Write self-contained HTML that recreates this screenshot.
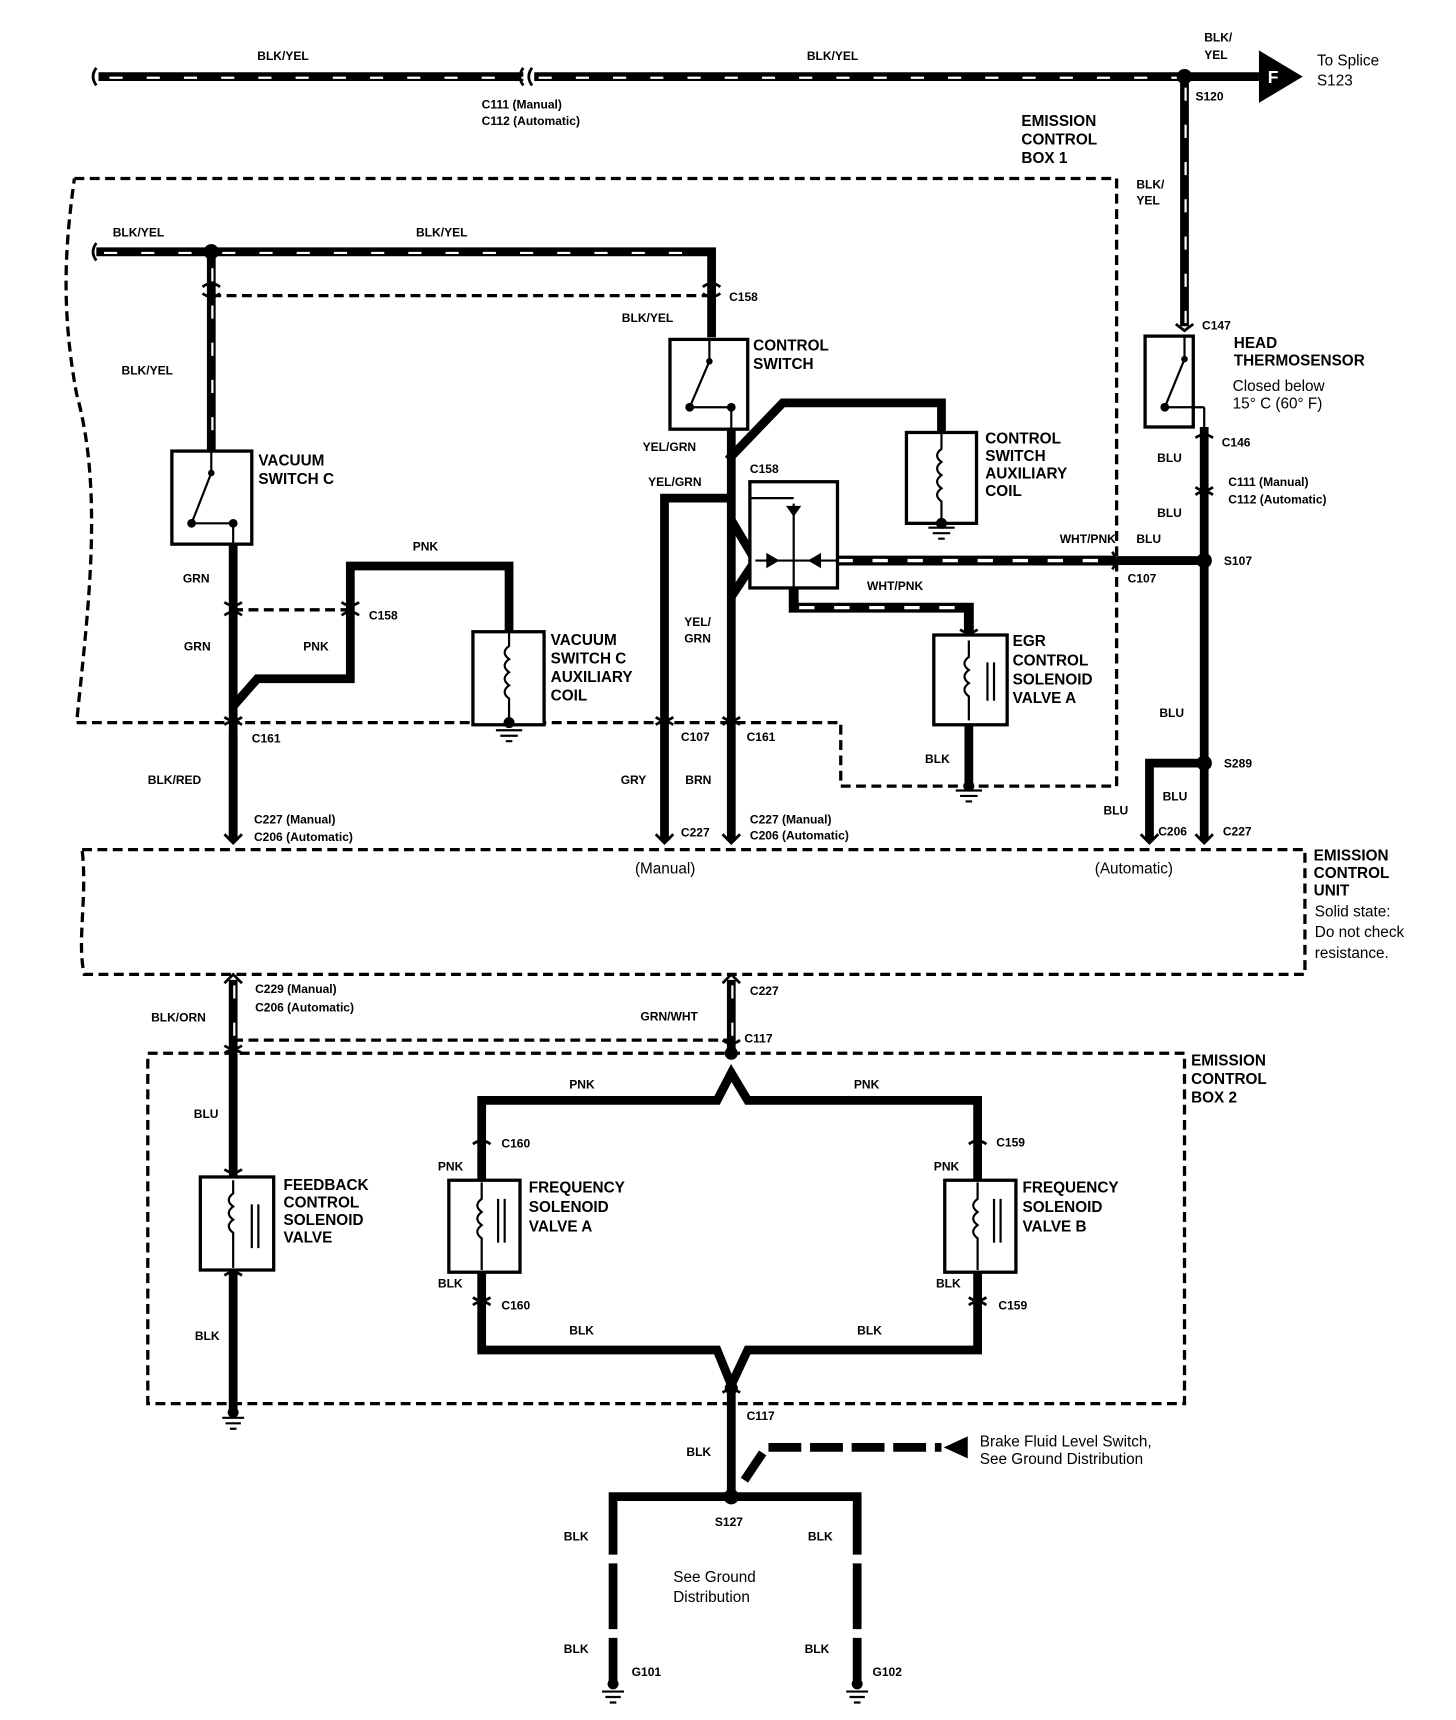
<!DOCTYPE html>
<html><head><meta charset="utf-8"><style>
html,body{margin:0;padding:0;background:#fff}
svg{display:block}
text{font-family:"Liberation Sans",sans-serif;fill:#000}
.b{font-weight:bold;font-size:14px}
.s{font-weight:bold;font-size:11px}
.n{font-size:14px}
</style></head><body>
<svg width="1456" height="1720" viewBox="0 0 1330 1571" preserveAspectRatio="none" xmlns="http://www.w3.org/2000/svg">
<g fill="none" stroke="#000">
<g stroke-width="8">
<path d="M90 70 H478 M488 70 H1150"/>
<path d="M1082 70 V298"/>
<path d="M88 230 H650 V308"/>
<path d="M193 230 V412"/>
<path d="M213 670 V768"/>
<path d="M668 895 V960"/>
<path d="M213 895 V960"/>
</g>
<g stroke="#fff" stroke-width="2" stroke-dasharray="12 22">
<path d="M100 71 H478 M492 71 H1075"/>
<path d="M1083 80 V295"/>
<path d="M95 231 H185 M203 231 H645"/>
<path d="M194 245 V405"/>
<path d="M214 675 V760"/>
<path d="M669 900 V955"/>
<path d="M214 900 V955"/>
</g>
<g stroke-width="8" stroke-linejoin="miter">
<path d="M1100 390 V768"/>
<path d="M1020 512 H1100"/>
<path d="M1100 697 H1050 V768"/>
<path d="M213 497 V768"/>
<path d="M213 645 L235 620 H320 V517 H465 V577"/>
<path d="M668 392 V768"/>
<path d="M665 420 L715 368 H860 V395"/>
<path d="M607 768 V455 H665"/>
<path d="M668 475 L690 512"/>
<path d="M668 545 L690 512"/>
<path d="M885 662 V715"/>
<path d="M213 960 V1075 M213 1160 V1290"/>
<path d="M440 1078 V1005 H655 L668 980 L683 1005 H893 V1078"/>
<path d="M440 1162 V1233 H655 L668 1265 L683 1233 H893 V1162"/>
<path d="M668 1265 V1367"/>
<path d="M560 1420 V1367 H783 V1420"/>
<path d="M560 1428 V1488 M560 1496 V1535 M783 1428 V1488 M783 1496 V1535"/>
<path d="M680 1352 L700 1322 H860" stroke-dasharray="30 8"/>
</g>
<path d="M765 512 H1018" stroke-width="9"/>
<path d="M765 512 H1015" stroke="#fff" stroke-width="3" stroke-dasharray="14 18"/>
<path d="M725 537 V555 H885 V580" stroke-width="9"/>
<path d="M730 555 H880" stroke="#fff" stroke-width="3" stroke-dasharray="14 18"/>
<g stroke-width="3" stroke-dasharray="9 5">
<path d="M68 163 H1020 V718 H768 V660 H70 C80 560 95 450 70 360 C55 280 60 220 68 163"/>
<path d="M193 270 H650"/>
<path d="M213 557 H320"/>
<path d="M75 776 H1192 V890 H77 C70 860 80 820 75 776"/>
<path d="M213 950 H668"/>
<path d="M135 962 H1082 V1282 H135 Z"/>
</g>
<g stroke-width="3" fill="#fff">
<rect x="157" y="412" width="73" height="85"/>
<rect x="432" y="577" width="65" height="85"/>
<rect x="612" y="310" width="71" height="82"/>
<rect x="828" y="395" width="64" height="83"/>
<rect x="685" y="440" width="80" height="97"/>
<rect x="853" y="580" width="67" height="82"/>
<rect x="1046" y="307" width="44" height="83"/>
<rect x="183" y="1075" width="67" height="85"/>
<rect x="410" y="1078" width="65" height="84"/>
<rect x="863" y="1078" width="65" height="84"/>
</g>
<g stroke-width="2">
<path d="M193 412 V432 L175 478 M172 478 H210 M213 478 V497"/>
<path d="M648 310 V330 L630 372 M630 372 H668 V392"/>
<path d="M1082 307 V328 L1064 372 M1064 372 H1100 M1100 372 V390"/>
<path d="M465 577 V590 q-8 6 0 12 q-8 6 0 12 q-8 6 0 12 q-8 6 0 12 V658"/>
<path d="M860 395 V410 q-8 6 0 12 q-8 6 0 12 q-8 6 0 12 q-8 6 0 12 V478"/>
<path d="M885 585 V600 q-8 6 0 12 q-8 6 0 12 q-8 6 0 12 V658 M902 605 V640 M908 605 V640"/>
<path d="M213 1078 V1090 q-8 6 0 12 q-8 6 0 12 q-8 6 0 12 V1158 M230 1100 V1140 M236 1100 V1140"/>
<path d="M440 1080 V1095 q-8 6 0 12 q-8 6 0 12 q-8 6 0 12 V1160 M455 1095 V1135 M461 1095 V1135"/>
<path d="M893 1080 V1095 q-8 6 0 12 q-8 6 0 12 q-8 6 0 12 V1160 M908 1095 V1135 M914 1095 V1135"/>
<path d="M690 512 H765 M725 460 V512 M685 455 H725 M725 537 V512"/>
</g>
<g stroke-width="2">
<path d="M453 667 H477 M457 672 H473 M462 677 H468"/>
<path d="M848 482 H872 M852 487 H868 M857 492 H863"/>
<path d="M873 722 H897 M877 727 H893 M882 732 H888"/>
<path d="M203 1295 H223 M206 1300 H220 M210 1305 H216"/>
<path d="M550 1545 H570 M553 1550 H567 M557 1555 H563"/>
<path d="M773 1545 H793 M776 1550 H790 M780 1555 H786"/>
</g>
<g stroke-width="2.5">
<path d="M478 62 q-6 8 0 16 M486 62 q-6 8 0 16"/>
<path d="M88 62 q-6 8 0 16 M88 222 q-6 8 0 16"/>
<path d="M185 262 q8 -6 16 0 M185 268 q8 6 16 0"/>
<path d="M642 262 q8 -6 16 0 M642 268 q8 6 16 0"/>
<path d="M205 550 q8 6 16 0 M205 562 q8 -6 16 0 M312 550 q8 6 16 0 M312 562 q8 -6 16 0"/>
<path d="M205 655 q8 6 16 0 M205 662 q8 -6 16 0 M599 655 q8 6 16 0 M599 662 q8 -6 16 0 M660 655 q8 6 16 0 M660 662 q8 -6 16 0"/>
<path d="M205 762 l8 8 l8 -8 M599 762 l8 8 l8 -8 M660 762 l8 8 l8 -8 M1042 762 l8 8 l8 -8 M1092 762 l8 8 l8 -8"/>
<path d="M205 898 l8 -8 l8 8 M660 898 l8 -8 l8 8"/>
<path d="M1074 296 l8 6 l8 -6 M1092 400 q8 -6 16 0 M1092 445 q8 6 16 0 M1092 452 q8 -6 16 0"/>
<path d="M1016 504 q6 8 0 16"/>
<path d="M205 955 q8 6 16 0 M205 962 q8 -6 16 0 M205 1068 q8 6 16 0 M205 1165 q8 -6 16 0"/>
<path d="M432 1045 q8 -6 16 0 M885 1045 q8 -6 16 0 M432 1185 q8 6 16 0 M432 1192 q8 -6 16 0 M885 1185 q8 6 16 0 M885 1192 q8 -6 16 0"/>
<path d="M660 950 q8 6 16 0 M660 1272 q8 -6 16 0 M877 575 q8 6 16 0"/>
</g>
</g>
<g fill="#000">
<circle cx="1082" cy="70" r="7"/><circle cx="193" cy="230" r="7"/>
<circle cx="1100" cy="512" r="7"/><circle cx="1100" cy="697" r="7"/>
<circle cx="668" cy="1367" r="7"/><circle cx="668" cy="962" r="6"/><circle cx="668" cy="1268" r="6"/>
<circle cx="193" cy="432" r="3"/><circle cx="175" cy="478" r="4"/><circle cx="213" cy="478" r="4"/>
<circle cx="648" cy="330" r="3"/><circle cx="630" cy="372" r="4"/><circle cx="668" cy="372" r="4"/>
<circle cx="1082" cy="328" r="3"/><circle cx="1064" cy="372" r="4"/>
<circle cx="465" cy="660" r="5"/><circle cx="860" cy="478" r="5"/><circle cx="885" cy="718" r="5"/>
<circle cx="213" cy="1290" r="5"/><circle cx="560" cy="1538" r="5"/><circle cx="783" cy="1538" r="5"/>
<polygon points="1150,46 1150,94 1190,70"/>
<polygon points="862,1322 884,1312 884,1332"/>
<polygon points="718,462 732,462 725,472"/>
<polygon points="700,505 700,519 712,512"/><polygon points="750,505 750,519 738,512"/>
</g>
<text x="1158" y="76" style="font:bold 16px 'Liberation Sans';fill:#fff">F</text>
<g class="b">
<text x="235" y="55" class="s">BLK/YEL</text><text x="737" y="55" class="s">BLK/YEL</text>
<text x="1100" y="38" class="s">BLK/</text><text x="1100" y="54" class="s">YEL</text>
<text x="1038" y="172" class="s">BLK/</text><text x="1038" y="187" class="s">YEL</text>
<text x="103" y="216" class="s">BLK/YEL</text><text x="380" y="216" class="s">BLK/YEL</text>
<text x="568" y="294" class="s">BLK/YEL</text><text x="111" y="342" class="s">BLK/YEL</text>
<text x="236" y="425">VACUUM</text><text x="236" y="442">SWITCH C</text>
<text x="688" y="320">CONTROL</text><text x="688" y="337">SWITCH</text>
<text x="900" y="405">CONTROL</text><text x="900" y="421">SWITCH</text><text x="900" y="437">AUXILIARY</text><text x="900" y="453">COIL</text>
<text x="503" y="589">VACUUM</text><text x="503" y="606">SWITCH C</text><text x="503" y="623">AUXILIARY</text><text x="503" y="640">COIL</text>
<text x="925" y="590">EGR</text><text x="925" y="608">CONTROL</text><text x="925" y="625">SOLENOID</text><text x="925" y="642">VALVE A</text>
<text x="1127" y="318">HEAD</text><text x="1127" y="334">THERMOSENSOR</text>
<text x="933" y="115">EMISSION</text><text x="933" y="132">CONTROL</text><text x="933" y="149">BOX 1</text>
<text x="1200" y="786">EMISSION</text><text x="1200" y="802">CONTROL</text><text x="1200" y="818">UNIT</text>
<text x="1088" y="973">EMISSION</text><text x="1088" y="990">CONTROL</text><text x="1088" y="1007">BOX 2</text>
<text x="259" y="1087">FEEDBACK</text><text x="259" y="1103">CONTROL</text><text x="259" y="1119">SOLENOID</text><text x="259" y="1135">VALVE</text>
<text x="483" y="1089">FREQUENCY</text><text x="483" y="1107">SOLENOID</text><text x="483" y="1125">VALVE A</text>
<text x="934" y="1089">FREQUENCY</text><text x="934" y="1107">SOLENOID</text><text x="934" y="1125">VALVE B</text>
</g>
<g class="s">
<text x="440" y="99">C111 (Manual)</text><text x="440" y="114">C112 (Automatic)</text>
<text x="1092" y="92">S120</text><text x="666" y="275">C158</text><text x="1098" y="301">C147</text>
<text x="1116" y="408">C146</text><text x="1057" y="422">BLU</text>
<text x="1122" y="444">C111 (Manual)</text><text x="1122" y="460">C112 (Automatic)</text>
<text x="1057" y="472">BLU</text><text x="1038" y="496">BLU</text><text x="1118" y="516">S107</text>
<text x="1030" y="532">C107</text><text x="968" y="496">WHT/PNK</text><text x="792" y="539">WHT/PNK</text>
<text x="1059" y="655">BLU</text><text x="1118" y="701">S289</text><text x="1062" y="731">BLU</text><text x="1008" y="744">BLU</text>
<text x="1058" y="763">C206</text><text x="1117" y="763">C227</text>
<text x="167" y="532">GRN</text><text x="168" y="594">GRN</text><text x="377" y="503">PNK</text><text x="277" y="594">PNK</text>
<text x="337" y="566">C158</text><text x="230" y="678">C161</text><text x="135" y="716">BLK/RED</text>
<text x="232" y="752">C227 (Manual)</text><text x="232" y="768">C206 (Automatic)</text>
<text x="587" y="412">YEL/GRN</text><text x="592" y="444">YEL/GRN</text><text x="685" y="432">C158</text>
<text x="625" y="572">YEL/</text><text x="625" y="587">GRN</text>
<text x="622" y="677">C107</text><text x="682" y="677">C161</text><text x="567" y="716">GRY</text><text x="626" y="716">BRN</text>
<text x="622" y="764">C227</text><text x="685" y="752">C227 (Manual)</text><text x="685" y="767">C206 (Automatic)</text>
<text x="845" y="697">BLK</text>
<text x="233" y="907">C229 (Manual)</text><text x="233" y="924">C206 (Automatic)</text><text x="138" y="933">BLK/ORN</text>
<text x="685" y="909">C227</text><text x="585" y="932">GRN/WHT</text><text x="680" y="952">C117</text>
<text x="177" y="1021">BLU</text><text x="178" y="1224">BLK</text>
<text x="520" y="994">PNK</text><text x="780" y="994">PNK</text>
<text x="458" y="1048">C160</text><text x="910" y="1047">C159</text><text x="400" y="1069">PNK</text><text x="853" y="1069">PNK</text>
<text x="400" y="1176">BLK</text><text x="855" y="1176">BLK</text><text x="458" y="1196">C160</text><text x="912" y="1196">C159</text>
<text x="520" y="1219">BLK</text><text x="783" y="1219">BLK</text>
<text x="682" y="1297">C117</text><text x="627" y="1330">BLK</text><text x="653" y="1394">S127</text>
<text x="515" y="1407">BLK</text><text x="738" y="1407">BLK</text><text x="515" y="1510">BLK</text><text x="735" y="1510">BLK</text>
<text x="577" y="1531">G101</text><text x="797" y="1531">G102</text>
</g>
<g class="n">
<text x="1203" y="60">To Splice</text><text x="1203" y="78">S123</text>
<text x="1126" y="357">Closed below</text><text x="1126" y="373">15° C (60° F)</text>
<text x="580" y="798">(Manual)</text><text x="1000" y="798">(Automatic)</text>
<text x="1201" y="837">Solid state:</text><text x="1201" y="856">Do not check</text><text x="1201" y="875">resistance.</text>
<text x="895" y="1321">Brake Fluid Level Switch,</text><text x="895" y="1337">See Ground Distribution</text>
<text x="615" y="1445">See Ground</text><text x="615" y="1463">Distribution</text>
</g>
</svg>
</body></html>
